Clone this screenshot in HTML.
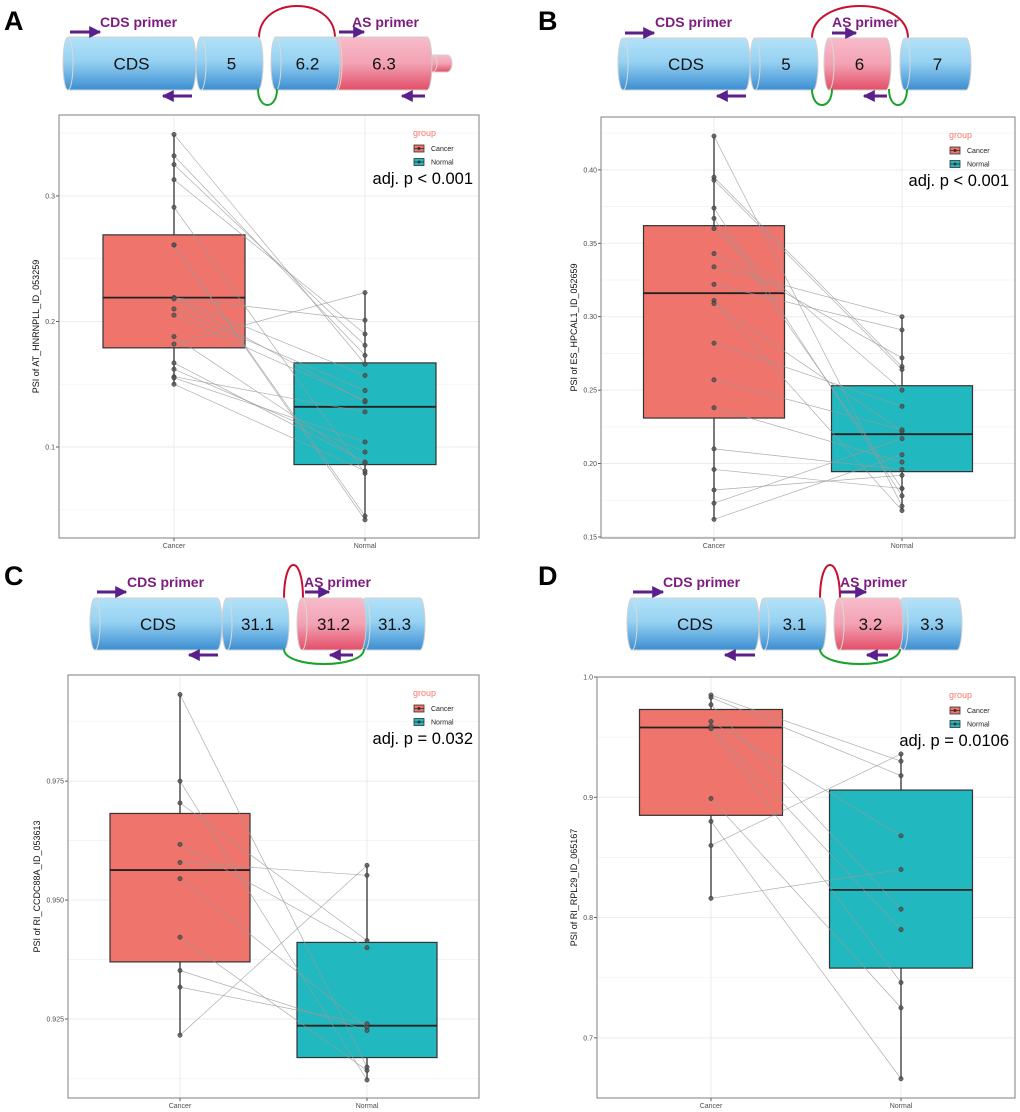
<!DOCTYPE html>
<html><head><meta charset="utf-8"><style>
html,body{margin:0;padding:0;background:#fff;}
svg{display:block;font-family:"Liberation Sans",Arial,sans-serif;}
</style></head><body>
<svg id="fig" width="1020" height="1112" viewBox="0 0 1020 1112" xmlns="http://www.w3.org/2000/svg">
<defs>
<linearGradient id="gBlue" x1="0" y1="0" x2="0" y2="1"><stop offset="0" stop-color="#b3e2f8"/><stop offset="0.45" stop-color="#97d2f2"/><stop offset="1" stop-color="#3b8ed2"/></linearGradient>
<linearGradient id="gPink" x1="0" y1="0" x2="0" y2="1"><stop offset="0" stop-color="#f8bccb"/><stop offset="0.5" stop-color="#f2a2b3"/><stop offset="1" stop-color="#e34d67"/></linearGradient>
<marker id="ah" viewBox="0 0 10 10" refX="9" refY="5" markerWidth="4" markerHeight="4" orient="auto"><path d="M0,0L10,5L0,10z" fill="#5b1f8c"/></marker>
</defs>
</svg>
<script>
// ===== Panel data =====
const categories = ["Cancer", "Normal"];
const pvalLabels = ["adj. p < 0.001", "adj. p < 0.001", "adj. p = 0.032", "adj. p = 0.0106"];
const yTitles = ["PSI of  AT_HNRNPLL_ID_053259", "PSI of  ES_HPCAL1_ID_052659", "PSI of  RI_CCDC88A_ID_053613", "PSI of  RI_RPL29_ID_065167"];
const ticksA = [0.1, 0.2, 0.3];
const ticksB = [0.15, 0.20, 0.25, 0.30, 0.35, 0.40];
const ticksC = [0.925, 0.950, 0.975];
const ticksD = [0.7, 0.8, 0.9, 1.0];
const tickLabelsA = ["0.1", "0.2", "0.3"];
const tickLabelsB = ["0.15", "0.20", "0.25", "0.30", "0.35", "0.40"];
const tickLabelsC = ["0.925", "0.950", "0.975"];
const tickLabelsD = ["0.7", "0.8", "0.9", "1.0"];
const minorA = [0.05, 0.15, 0.25, 0.35];
const minorB = [0.175, 0.225, 0.275, 0.325, 0.375, 0.425];
const minorC = [0.9125, 0.9375, 0.9625, 0.9875];
const minorD = [0.75, 0.85, 0.95];
const domainA = [0.0275, 0.3645];
const domainB = [0.1493, 0.436];
const domainC = [0.9084, 0.9973];
const domainD = [0.650, 1.0];
const cancerA = [0.349,0.332,0.325,0.313,0.291,0.261,0.261,0.219,0.219,0.218,0.210,0.205,0.188,0.182,0.167,0.162,0.156,0.155,0.150];
const normalA = [0.166,0.173,0.181,0.190,0.079,0.045,0.042,0.157,0.201,0.136,0.145,0.137,0.087,0.223,0.088,0.096,0.128,0.104,0.081];
const cancerB = [0.423,0.395,0.393,0.374,0.367,0.360,0.343,0.334,0.322,0.311,0.309,0.282,0.257,0.238,0.210,0.196,0.182,0.173,0.162];
const normalB = [0.171,0.266,0.264,0.178,0.183,0.250,0.272,0.300,0.291,0.168,0.222,0.239,0.223,0.201,0.196,0.183,0.192,0.217,0.206];
const cancerC = [0.9932,0.975,0.9704,0.9617,0.9579,0.9545,0.9422,0.9352,0.9317,0.9216];
const normalC = [0.9149,0.9122,0.9415,0.9400,0.9552,0.9233,0.9142,0.9226,0.9240,0.9573];
const cancerD = [0.985,0.983,0.977,0.963,0.959,0.957,0.899,0.880,0.860,0.816];
const normalD = [0.930,0.918,0.807,0.868,0.790,0.746,0.725,0.666,0.936,0.840];
// box stats: [whiskerLow, q1, median, q3, whiskerHigh]
const boxCancerA = [0.150, 0.179, 0.219, 0.269, 0.349];
const boxNormalA = [0.042, 0.086, 0.132, 0.167, 0.223];
const boxCancerB = [0.162, 0.231, 0.316, 0.362, 0.423];
const boxNormalB = [0.168, 0.1945, 0.220, 0.253, 0.300];
const boxCancerC = [0.9216, 0.937, 0.9563, 0.9682, 0.9932];
const boxNormalC = [0.9122, 0.9169, 0.9236, 0.9411, 0.9573];
const boxCancerD = [0.816, 0.885, 0.958, 0.973, 0.985];
const boxNormalD = [0.666, 0.758, 0.823, 0.906, 0.936];

const NS = "http://www.w3.org/2000/svg";
const svg = document.getElementById("fig");
function mk(tag, attrs, parent, text) {
  const e = document.createElementNS(NS, tag);
  for (const k in attrs) e.setAttribute(k, attrs[k]);
  if (text !== undefined) e.textContent = text;
  (parent || svg).appendChild(e);
  return e;
}

// ===== Diagrams =====
function cylinder(g, x1, x2, y1, y2, fill, label, name) {
  const rx = 5, ym = (y1 + y2) / 2, ry = (y2 - y1) / 2;
  const c = mk("path", {d: `M${x1+rx},${y1} L${x2-rx},${y1} A${rx},${ry} 0 0 1 ${x2-rx},${y2} L${x1+rx},${y2} A${rx},${ry} 0 0 1 ${x1+rx},${y1} Z`, fill: fill, stroke: "#d0d0d0", "stroke-width": 1}, g);
  
  
  const e = mk("path", {d: `M${x1+rx},${y1} A${rx},${ry} 0 0 1 ${x1+rx},${y2}`, fill: "none", stroke: "#d8d8d8", "stroke-width": 1}, g);
  
  
  if (label) {
    const t = mk("text", {x: (x1 + x2) / 2 + 2, y: ym + 6, "font-size": 17, "text-anchor": "middle", fill: "#111"}, g, label);
    
    
  }
}
function arrow(g, x1, x2, y, name) {
  const a = mk("line", {x1: x1, y1: y, x2: x2, y2: y, stroke: "#5b1f8c", "stroke-width": 3, "marker-end": "url(#ah)"}, g);
  
  
}
function arc(g, x1, x2, yBase, yPeak, color, name) {
  const h = (yPeak - yBase) * 4 / 3;
  const a = mk("path", {d: `M${x1},${yBase} C${x1},${yBase+h} ${x2},${yBase+h} ${x2},${yBase}`, fill: "none", stroke: color, "stroke-width": 2}, g);
  
  
}
function ptext(g, x, y, s, name) {
  const t = mk("text", {x: x, y: y, "font-size": 14, "font-weight": "bold", fill: "#7e1b7f"}, g, s);
  
  
}
function letter(x, y, s) {
  const t = mk("text", {x: x, y: y, "font-size": 27, "font-weight": "bold", fill: "#000"}, svg, s);
  
  
}
const B = "url(#gBlue)", P = "url(#gPink)";

// Diagram A
let g = mk("g", {});  
letter(4, 30, "A");
arc(g, 259, 335, 38, 6, "#c8102e", "red-junction-a");
cylinder(g, 63, 196, 37, 90, B, "CDS", "cds-a");
cylinder(g, 196, 263, 37, 90, B, "5", "exon5-a");
cylinder(g, 427, 452, 55, 72, P, "", "tail-a");
cylinder(g, 332, 432, 37, 90, P, "6.3", "exon63-a");
cylinder(g, 271, 340, 37, 90, B, "6.2", "exon62-a");
arc(g, 258, 277, 89, 105, "#1aa32b", "green-junction-a");
ptext(g, 100, 27, "CDS primer", "cds-primer-label-a");
ptext(g, 352, 27, "AS primer", "as-primer-label-a");
arrow(g, 70, 100, 32, "cds-forward-arrow-a");
arrow(g, 192, 163, 96, "cds-reverse-arrow-a");
arrow(g, 339, 364, 32, "as-forward-arrow-a");
arrow(g, 425, 402, 96, "as-reverse-arrow-a");

// Diagram B
g = mk("g", {});  
letter(538, 30, "B");
arc(g, 812, 908, 38, 6, "#c8102e", "red-junction-b");
cylinder(g, 618, 750, 38, 90, B, "CDS", "cds-b");
cylinder(g, 750, 818, 38, 90, B, "5", "exon5-b");
cylinder(g, 824, 891, 38, 90, P, "6", "exon6-b");
cylinder(g, 900, 971, 38, 90, B, "7", "exon7-b");
arc(g, 812, 832, 89, 105, "#1aa32b", "green-junction-b1");
arc(g, 889, 907, 89, 105, "#1aa32b", "green-junction-b2");
ptext(g, 655, 27, "CDS primer", "cds-primer-label-b");
ptext(g, 832, 27, "AS primer", "as-primer-label-b");
arrow(g, 625, 654, 33, "cds-forward-arrow-b");
arrow(g, 746, 717, 96, "cds-reverse-arrow-b");
arrow(g, 832, 856, 33, "as-forward-arrow-b");
arrow(g, 887, 864, 96, "as-reverse-arrow-b");

// Diagram C
g = mk("g", {});  
letter(4, 585, "C");
arc(g, 284, 303, 599, 565, "#c8102e", "red-junction-c");
cylinder(g, 90, 222, 598, 650, B, "CDS", "cds-c");
cylinder(g, 222, 289, 598, 650, B, "31.1", "exon311-c");
cylinder(g, 360, 425, 598, 650, B, "31.3", "exon313-c");
cylinder(g, 297, 366, 598, 650, P, "31.2", "exon312-c");
arc(g, 284, 364, 649, 664, "#1aa32b", "green-junction-c");
ptext(g, 127, 587, "CDS primer", "cds-primer-label-c");
ptext(g, 304, 587, "AS primer", "as-primer-label-c");
arrow(g, 97, 126, 592, "cds-forward-arrow-c");
arrow(g, 218, 189, 655, "cds-reverse-arrow-c");
arrow(g, 305, 329, 592, "as-forward-arrow-c");
arrow(g, 353, 330, 655, "as-reverse-arrow-c");

// Diagram D
g = mk("g", {});  
letter(538, 585, "D");
arc(g, 820, 840, 599, 565, "#c8102e", "red-junction-d");
cylinder(g, 627, 759, 598, 650, B, "CDS", "cds-d");
cylinder(g, 759, 826, 598, 650, B, "3.1", "exon31-d");
cylinder(g, 898, 962, 598, 650, B, "3.3", "exon33-d");
cylinder(g, 834, 903, 598, 650, P, "3.2", "exon32-d");
arc(g, 820, 900, 649, 664, "#1aa32b", "green-junction-d");
ptext(g, 663, 587, "CDS primer", "cds-primer-label-d");
ptext(g, 840, 587, "AS primer", "as-primer-label-d");
arrow(g, 633, 663, 592, "cds-forward-arrow-d");
arrow(g, 755, 725, 655, "cds-reverse-arrow-d");
arrow(g, 840, 866, 592, "as-forward-arrow-d");
arrow(g, 888, 867, 655, "as-reverse-arrow-d");

// ===== Box plots =====
function plot(id, f, domain, ticks, tickLabels, minor, cancer, normal, boxC, boxN, ytitle, ptxt) {
  const pg = mk("g", {});
  
  
  const y = v => f.y1 - (v - domain[0]) / (domain[1] - domain[0]) * (f.y1 - f.y0);
  const xs = [f.xc, f.xn];
  const bh = f.bw / 2;
  for (const v of minor) {
    if (v <= domain[0] || v >= domain[1]) continue;
    const l = mk("line", {x1: f.x0, x2: f.x1, y1: y(v), y2: y(v), stroke: "#f3f3f3", "stroke-width": 0.8}, pg);
    
    
  }
  ticks.forEach((v, i) => {
    const l = mk("line", {x1: f.x0, x2: f.x1, y1: y(v), y2: y(v), stroke: "#ebebeb", "stroke-width": 1}, pg);
    
    
    const tk = mk("line", {x1: f.x0 - 3, x2: f.x0, y1: y(v), y2: y(v), stroke: "#333", "stroke-width": 0.8}, pg);
    
    
    const t = mk("text", {x: f.x0 - 4, y: y(v) + 2.5, "font-size": 7, "text-anchor": "end", fill: "#4d4d4d"}, pg, tickLabels[i]);
    
    
  });
  xs.forEach((x, i) => {
    const l = mk("line", {x1: x, x2: x, y1: f.y0, y2: f.y1, stroke: "#ebebeb", "stroke-width": 1}, pg);
    
    
    const tk = mk("line", {x1: x, x2: x, y1: f.y1, y2: f.y1 + 3, stroke: "#333", "stroke-width": 0.8}, pg);
    
    
    const t = mk("text", {x: x, y: f.y1 + 10, "font-size": 7, "text-anchor": "middle", fill: "#4d4d4d"}, pg, categories[i]);
    
    
  });
  [boxC, boxN].forEach((b, i) => {
    const x = xs[i];
    const w = mk("line", {x1: x, x2: x, y1: y(b[0]), y2: y(b[4]), stroke: "#333", "stroke-width": 1.3}, pg);
    
    
    const r = mk("rect", {x: x - bh, y: y(b[3]), width: f.bw, height: y(b[1]) - y(b[3]), fill: i ? "#21b8bf" : "#ee746c", stroke: "#333", "stroke-width": 1.2}, pg);
    
    
    const m = mk("line", {x1: x - bh, x2: x + bh, y1: y(b[2]), y2: y(b[2]), stroke: "#222", "stroke-width": 1.8}, pg);
    
    
  });
  for (let i = 0; i < cancer.length; i++) {
    const l = mk("line", {x1: f.xc, y1: y(cancer[i]), x2: f.xn, y2: y(normal[i]), stroke: "#9a9a9a", "stroke-width": 0.7, "stroke-opacity": 0.8}, pg);
    
    
  }
  for (let i = 0; i < cancer.length; i++) {
    const p1 = mk("circle", {cx: f.xc, cy: y(cancer[i]), r: 2.2, fill: "#555", "fill-opacity": 0.85, stroke: "#333", "stroke-width": 0.5}, pg);
    
    
    const p2 = mk("circle", {cx: f.xn, cy: y(normal[i]), r: 2.2, fill: "#555", "fill-opacity": 0.85, stroke: "#333", "stroke-width": 0.5}, pg);
    
    
  }
  const fr = mk("rect", {x: f.x0, y: f.y0, width: f.x1 - f.x0, height: f.y1 - f.y0, fill: "none", stroke: "#7f7f7f", "stroke-width": 1}, pg);
  
  
  const cy = (f.y0 + f.y1) / 2;
  const yt = mk("text", {x: f.tx, y: cy, "font-size": 9, "text-anchor": "middle", fill: "#111", transform: `rotate(-90 ${f.tx} ${cy})`}, pg, ytitle);
  
  
  // legend
  const lx = f.x1 - 66;
  const lt = mk("text", {x: lx, y: f.y0 + 21, "font-size": 9, fill: "#f8766d"}, pg, "group");
  
  
  categories.forEach((c, i) => {
    const ky = f.y0 + 30 + i * 13.5;
    const k = mk("rect", {x: lx + 1, y: ky, width: 10, height: 7, fill: i ? "#21b8bf" : "#ee746c", stroke: "#333", "stroke-width": 0.8}, pg);
    
    
    const kl = mk("line", {x1: lx + 1, x2: lx + 11, y1: ky + 3.5, y2: ky + 3.5, stroke: "#333", "stroke-width": 0.8}, pg);
    
    
    const kd = mk("circle", {cx: lx + 6, cy: ky + 3.5, r: 1.5, fill: "#333"}, pg);
    
    
    const kt = mk("text", {x: lx + 18, y: ky + 6, "font-size": 7, fill: "#222"}, pg, c);
    
    
  });
  const pt = mk("text", {x: f.x1 - 6, y: f.y0 + 69, "font-size": 16.5, "text-anchor": "end", fill: "#000"}, pg, ptxt);
  
  
}

plot("a", {x0: 59, x1: 479, y0: 115, y1: 538, xc: 174, xn: 365, bw: 142, tx: 39}, domainA, ticksA, tickLabelsA, minorA, cancerA, normalA, boxCancerA, boxNormalA, yTitles[0], pvalLabels[0]);
plot("b", {x0: 601, x1: 1015, y0: 117, y1: 538, xc: 714, xn: 902, bw: 141, tx: 577}, domainB, ticksB, tickLabelsB, minorB, cancerB, normalB, boxCancerB, boxNormalB, yTitles[1], pvalLabels[1]);
plot("c", {x0: 68, x1: 479, y0: 675, y1: 1098, xc: 180, xn: 367, bw: 140, tx: 40}, domainC, ticksC, tickLabelsC, minorC, cancerC, normalC, boxCancerC, boxNormalC, yTitles[2], pvalLabels[2]);
plot("d", {x0: 597, x1: 1015, y0: 677, y1: 1098, xc: 711, xn: 901, bw: 143, tx: 577}, domainD, ticksD, tickLabelsD, minorD, cancerD, normalD, boxCancerD, boxNormalD, yTitles[3], pvalLabels[3]);
</script>
</body></html>
